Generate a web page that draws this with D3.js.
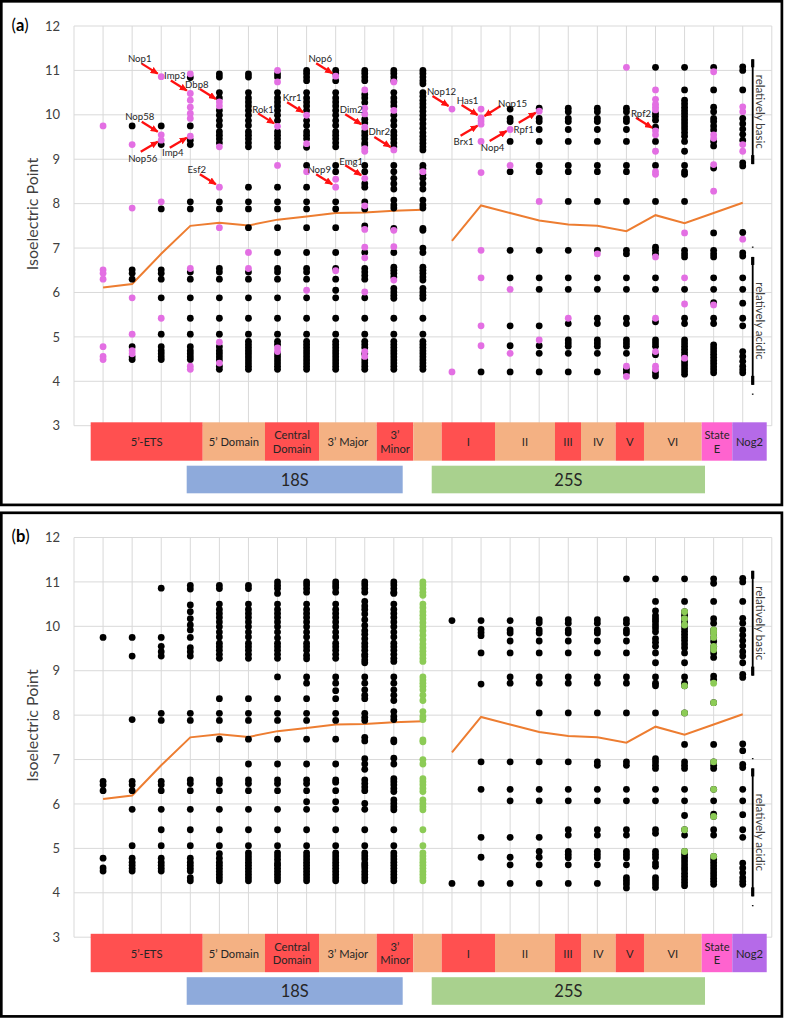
<!DOCTYPE html>
<html><head><meta charset="utf-8">
<script src="https://cdn.jsdelivr.net/npm/d3@7"></script>
<style>
body{margin:0;background:#fff}
svg{display:block}
text{font-family:Lato,"Noto Sans",sans-serif}
</style>
</head><body>
<svg id="c" width="785" height="1019"></svg>
<script>
// ---------------- DATA ----------------
const yTicks = [3,4,5,6,7,8,9,10,11,12];

// black points per column (columns 1..23), panel (a)
const blackA = [
 [],
 [9.75,6.51,6.43,6.3,4.78,4.55,4.49],
 [9.75,9.33,7.88,6.51,6.43,6.3,5.88,5.06,4.78,4.69,4.62,4.55,4.49],
 [10.84,9.75,9.43,9.33,8.04,7.88,6.46,6.3,5.88,5.42,5.06,4.78,4.69,4.62,4.55,4.49],
 [10.92,10.85,10.5,10.38,10.1,9.99,9.87,9.76,9.62,9.54,9.46,9.37,8.04,7.88,6.54,6.46,6.3,5.88,5.42,5.06,4.78,4.69,4.62,4.55,4.48,4.34,4.27],
 [10.92,10.85,10.5,10.38,10.29,10.2,10.1,9.99,9.87,9.76,9.62,9.54,9.46,9.37,9.28,8.37,8.04,7.88,7.46,6.46,6.3,5.88,5.42,5.06,4.9,4.83,4.76,4.69,4.62,4.55,4.48,4.41,4.34,4.27],
 [10.92,10.85,10.5,10.38,10.29,10.2,10.1,9.99,9.87,9.62,9.54,9.46,9.37,9.28,8.37,8.04,7.88,7.46,6.9,6.54,6.46,6.3,5.88,5.42,5.06,4.9,4.83,4.62,4.55,4.48,4.41,4.34,4.27],
 [11.0,10.93,10.85,10.77,10.5,10.38,10.29,10.2,10.1,9.87,9.76,9.62,9.54,9.46,9.27,8.86,8.37,8.04,7.88,7.46,6.9,6.54,6.46,6.3,5.88,5.42,5.06,4.9,4.83,4.76,4.69,4.62,4.55,4.48,4.41,4.34,4.27],
 [11.0,10.93,10.77,10.5,10.38,10.29,10.2,10.1,9.99,9.87,9.76,9.62,9.54,9.46,9.37,9.28,8.86,8.72,8.04,7.88,7.46,6.9,6.54,6.3,6.05,5.88,5.42,5.06,4.9,4.83,4.76,4.69,4.62,4.55,4.48,4.41,4.34,4.27],
 [11.0,10.93,10.85,10.77,10.46,10.38,10.28,9.9,9.82,9.62,9.54,9.46,9.37,9.32,8.86,8.72,8.45,8.37,8.04,7.88,7.5,6.9,6.54,6.46,6.38,6.3,5.88,5.42,5.06,4.9,4.83,4.76,4.62,4.48,4.41,4.34,4.27],
 [11.0,10.93,10.85,10.77,10.5,10.38,10.29,10.2,9.99,9.87,9.76,9.62,9.54,9.46,9.37,9.28,8.86,8.72,8.57,8.45,8.33,8.08,7.97,7.9,7.44,6.9,6.57,6.5,6.43,6.35,6.09,6.01,5.94,5.87,5.42,5.06,4.9,4.83,4.76,4.69,4.62,4.55,4.48,4.41,4.34,4.27],
 [11.0,10.93,10.85,10.77,10.7,10.5,10.42,10.33,10.25,10.17,10.08,9.99,9.9,9.8,9.7,9.6,9.52,9.44,9.36,9.28,9.21,8.86,8.79,8.65,8.57,8.45,8.33,8.08,7.97,7.9,7.44,7.4,7.0,6.9,6.57,6.5,6.43,6.35,6.28,6.09,6.01,5.94,5.87,5.42,5.06,4.9,4.83,4.76,4.69,4.62,4.55,4.48,4.41,4.34,4.27],
 [],
 [4.21],
 [10.13,9.92,9.85,9.4,8.72,6.95,6.33,5.25,4.8,4.21],
 [10.15,9.92,9.85,9.67,9.4,8.86,8.72,6.95,6.33,6.07,5.25,4.8,4.63,4.21],
 [10.15,10.07,9.92,9.85,9.67,9.4,8.86,8.72,8.05,6.95,6.33,6.07,5.3,4.93,4.86,4.79,4.63,4.21],
 [10.15,10.07,9.92,9.85,9.67,9.4,8.86,8.72,8.05,6.95,6.33,6.07,5.42,5.3,4.93,4.86,4.79,4.63,4.21],
 [10.15,10.07,9.92,9.85,9.67,9.4,8.86,8.72,8.05,6.95,6.87,6.33,6.07,5.42,5.3,4.93,4.86,4.79,4.63,4.27,4.2],
 [11.07,10.03,9.96,9.88,9.72,9.4,8.86,8.05,7.02,6.95,6.87,6.33,6.07,5.34,4.93,4.86,4.79,4.6,4.2,4.12],
 [11.07,10.56,10.33,10.25,10.17,10.1,10.03,9.96,9.89,9.82,9.75,9.68,9.6,9.52,9.4,9.18,8.86,8.72,8.66,8.05,6.95,6.87,6.8,6.07,5.42,5.3,4.93,4.86,4.79,4.72,4.65,4.58,4.44,4.37,4.3,4.23,4.16],
 [11.07,10.56,10.17,10.07,9.92,9.85,9.75,9.66,9.4,9.3,8.8,7.34,6.95,6.87,6.8,6.33,6.07,5.77,5.42,5.3,4.82,4.75,4.68,4.61,4.54,4.47,4.4,4.33,4.26,4.19],
 [11.08,11.0,10.56,9.92,9.8,9.68,9.56,9.43,8.92,8.85,7.35,6.89,6.82,6.33,6.07,5.76,5.42,5.25,4.67,4.56,4.45,4.34,4.26,4.19]
];

// highlighted (pink) points per column, panel (a)
const pinkA = [
 [9.75,6.51,6.43,6.3,4.78,4.56,4.49],
 [9.33,7.9,5.88,5.06,4.69,4.62],
 [10.86,9.55,9.43,8.04,5.42],
 [10.92,10.48,10.33,10.17,10.03,9.92,9.52,6.54,4.34,4.27],
 [10.29,10.2,9.28,8.37,7.46,4.88,4.41],
 [6.9,6.54],
 [11.0,10.74,9.74,8.86,4.75,4.67],
 [9.99,9.35,8.72,6.05],
 [10.87,8.55,8.37,6.49],
 [10.56,10.15,10.02,9.72,9.24,9.18,8.57,7.95,7.42,7.02,6.78,6.01,4.67,4.56],
 [10.74,10.1,9.21,7.4,7.03,6.28],
 [8.72],
 [10.13,4.21],
 [10.13,9.93,9.86,9.79,9.4,8.7,6.95,6.33,5.25,4.8],
 [9.67,8.86,6.07,4.63],
 [10.08,8.05,4.93],
 [5.42],
 [6.87],
 [11.07,4.34,4.11],
 [10.56,10.35,10.24,10.17,10.11,9.64,9.55,9.18,8.72,8.66,6.8,5.42,4.67,4.34,4.27],
 [7.34,6.33,5.74,4.52],
 [10.97,9.55,9.47,8.88,8.28,5.72],
 [10.18,10.07,9.33,9.18,7.2]
];

// panel (b): fully green column and green points in other columns
const greenColumnB = 12;
const greenColsB = [21, 22];
const greenValsB = [
 [10.33,10.17,10.03,8.66,8.05,5.42,4.93],
 [9.92,9.85,9.75,9.55,9.47,8.72,8.28,6.95,6.33,5.72,4.82]
];

// mean pI line (two segments)
const lineCols18 = [1,2,3,4,5,6,7,8,9,10,11,12];
const lineVals18 = [6.11,6.19,6.87,7.50,7.57,7.51,7.64,7.71,7.79,7.80,7.84,7.86];
const lineCols25 = [13,14,15,16,17,18,19,20,21,22,23];
const lineVals25 = [7.16,7.96,7.79,7.62,7.53,7.50,7.38,7.74,7.56,7.79,8.02];

// annotations (panel a)
const annNames = ["Nop1","Imp3","Dbp8","Nop58","Nop56","Imp4","Esf2","Rok1","Krr1","Nop6","Dim2","Dhr2","Nop9","Emg1","Nop12","Has1","Nop15","Brx1","Nop4","Rpf1","Rpf2"];
const annCols  = [3,4,5,3,3,4,5,7,8,9,10,11,9,10,13,14,14,14,15,16,20];
const annVals  = [10.86,10.48,10.29,9.55,9.43,9.52,8.37,9.74,9.99,10.87,9.72,9.21,8.37,8.57,10.13,9.93,9.93,9.79,9.67,10.08,9.64];
const annDirs  = ["nw","nw","nw","nw","sw","sw","nw","nw","nw","nw","nw","nw","nw","nw","nw","nw","ne","sw","sw","sw","nw"];
const annLabelDX = [-2,4,-3,-2,2,3,-3,5,5,4,6,5,3,6,9,6,12,3,3,5,5];
const annLabelDY = [-5,-5,-4.5,-5,6.5,5,-5,-3.5,-5,-5,-5,-5,-5,-3.5,-5,-4.5,-2,6,7,6.5,-4.5];

// domain bars (x in column units)
const barLabels = [["5’-ETS"],["5’ Domain"],["Central","Domain"],["3’ Major"],["3’","Minor"],[""],["I"],["II"],["III"],["IV"],["V"],["VI"],["State","E"],["Nog2"]];
const barStarts = [0.574,4.427,6.569,8.427,10.411,11.670,12.647,14.480,16.543,17.438,18.631,19.604,21.589,22.641];
const barEnds   = [4.427,6.569,8.427,10.411,11.670,12.647,14.480,16.543,17.438,18.631,19.604,21.589,22.641,23.825];
const barColors = ["#ff5050","#f4b183","#ff5050","#f4b183","#ff5050","#f4b183","#ff5050","#f4b183","#ff5050","#f4b183","#ff5050","#f4b183","#ff63cf","#b56ae8"];
const groupLabels = ["18S","25S"];
const groupStarts = [3.876,12.303];
const groupEnds = [11.305,21.703];
const groupColors = ["#8eaadb","#a9d18e"];

// ---------------- DRAW ----------------
const svg = d3.select("#c");
const x = d3.scaleLinear().domain([0,24]).range([74,771.8]);
const BLACK = "#000", PINK = "#e36fe3", GREEN = "#8ccb56", RED = "#ff1010";

svg.append("defs").append("marker")
  .attr("id","ah").attr("markerUnits","userSpaceOnUse")
  .attr("viewBox","0 0 8 7").attr("refX",7).attr("refY",3.5)
  .attr("markerWidth",8).attr("markerHeight",7).attr("orient","auto")
  .append("path").attr("d","M0,0 L8,3.5 L0,7 Z").attr("fill",RED);

function panel(oy, letter, mode){
  const y = d3.scaleLinear().domain([3,12]).range([425.7+oy, 26+oy]);
  const g = svg.append("g");

  // border
  g.append("rect").attr("x",1.3).attr("y",1.3+oy).attr("width",780.6).attr("height",503.6)
    .attr("fill","none").attr("stroke","#000").attr("stroke-width",2.7);

  // gridlines
  g.selectAll("line.hg").data(yTicks).join("line").attr("class","hg")
    .attr("x1",x(0)).attr("x2",x(24)).attr("y1",d=>y(d)).attr("y2",d=>y(d))
    .attr("stroke","#d9d9d9").attr("stroke-width",1);
  g.selectAll("line.vg").data(x.ticks(24)).join("line").attr("class","vg")
    .attr("x1",d=>x(d)).attr("x2",d=>x(d)).attr("y1",y(12)).attr("y2",y(3))
    .attr("stroke","#d9d9d9").attr("stroke-width",1);

  // y axis labels
  const ax = d3.axisLeft(y).tickValues(yTicks).tickSize(0).tickPadding(14).tickFormat(d3.format("d"));
  const axG = g.append("g").attr("transform",`translate(${x(0)},0)`).call(ax);
  axG.select(".domain").remove();
  axG.selectAll("text").attr("font-size",13).attr("fill","#404040").attr("font-family","Lato, 'Noto Sans', sans-serif");

  // axis title
  g.append("text").attr("transform",`translate(31,${214+oy}) rotate(-90)`)
    .attr("text-anchor","middle").attr("dominant-baseline","central")
    .attr("font-size",16).attr("fill","#404040").text("Isoelectric Point");

  // panel letter
  const pl = g.append("text").attr("x",11.5).attr("y",30.7+oy).attr("font-size",16.5).attr("fill","#000");
  pl.append("tspan").text("(");
  pl.append("tspan").attr("font-weight","bold").text(letter);
  pl.append("tspan").text(")");

  // mean line
  const ln = d3.line().x(d=>x(d[0])).y(d=>y(d[1]));
  [[lineCols18,lineVals18],[lineCols25,lineVals25]].forEach(([cs,vs])=>{
    g.append("path").attr("d",ln(cs.map((c,i)=>[c,vs[i]])))
      .attr("fill","none").attr("stroke","#ed7d31").attr("stroke-width",2);
  });

  // points
  let pts = [];
  blackA.forEach((arr,i)=>arr.forEach(v=>pts.push({c:i+1,v,col:BLACK})));
  pinkA.forEach((arr,i)=>arr.forEach(v=>pts.push({c:i+1,v,col: mode==="a" ? PINK : BLACK})));
  if(mode==="b"){
    pts.forEach(p=>{ if(p.c===greenColumnB) p.col = GREEN; });
    greenColsB.forEach((c,k)=>greenValsB[k].forEach(v=>pts.push({c,v,col:GREEN})));
  }
  pts.sort((a,b)=>(a.col===BLACK?0:1)-(b.col===BLACK?0:1));
  g.selectAll("circle.pt").data(pts).join("circle").attr("class","pt")
    .attr("cx",d=>x(d.c)).attr("cy",d=>y(d.v)).attr("r",3.4).attr("fill",d=>d.col);

  // relatively basic / acidic brackets
  const bx = 752.7;
  function bracket(top, bot, label, mid){
    const yt = y(top), yb = y(bot);
    g.append("line").attr("x1",bx).attr("x2",bx).attr("y1",yt).attr("y2",yb).attr("stroke","#000").attr("stroke-width",1.8);
    g.append("line").attr("x1",bx).attr("x2",bx).attr("y1",yt).attr("y2",yt+8).attr("stroke","#000").attr("stroke-width",3.2);
    g.append("line").attr("x1",bx).attr("x2",bx).attr("y1",yb-9).attr("y2",yb).attr("stroke","#000").attr("stroke-width",3.2);
    g.append("text").attr("transform",`translate(${bx+3.3},${y(mid)}) rotate(90)`)
      .attr("text-anchor","middle").attr("font-size",11.5).attr("fill","#404040").text(label);
  }
  bracket(11.25, 8.89, "relatively basic", 10.07);
  bracket(6.8, 3.92, "relatively acidic", 5.36);
  [7.02, 3.71].forEach(v=>{
    g.append("line").attr("x1",bx-0.8).attr("x2",bx+0.8).attr("y1",y(v)).attr("y2",y(v)).attr("stroke","#000").attr("stroke-width",1.2);
  });

  // bars
  const barTop = y(3) - 3.4, barH = 38.4;
  const bg = g.append("g");
  barLabels.forEach((lab,i)=>{
    const x0 = x(barStarts[i]), x1 = x(barEnds[i]);
    bg.append("rect").attr("x",x0).attr("y",barTop).attr("width",x1-x0).attr("height",barH).attr("fill",barColors[i]);
    const cx = (x0+x1)/2, cy = barTop + barH/2;
    lab.forEach((t,k)=>{
      const dy = lab.length===1 ? 0 : (k===0 ? -6.8 : 6.8);
      bg.append("text").attr("x",cx).attr("y",cy+dy).attr("text-anchor","middle")
        .attr("dominant-baseline","central").attr("font-size",11.2).attr("fill","#262626").text(t);
    });
  });
  const gTop = y(3) + 40, gH = 27.6;
  groupLabels.forEach((lab,i)=>{
    const x0 = x(groupStarts[i]), x1 = x(groupEnds[i]);
    bg.append("rect").attr("x",x0).attr("y",gTop).attr("width",x1-x0).attr("height",gH).attr("fill",groupColors[i]);
    bg.append("text").attr("x",(x0+x1)/2).attr("y",gTop+gH/2).attr("text-anchor","middle")
      .attr("dominant-baseline","central").attr("font-size",16.5).attr("fill","#262626").text(lab);
  });

  // annotations
  if(mode==="a"){
    annNames.forEach((nm,i)=>{
      const px = x(annCols[i]), py = y(annVals[i]);
      let tip, st;
      if(annDirs[i]==="nw"){ tip=[px-3.5,py-3]; st=[tip[0]-16,tip[1]-10]; }
      else if(annDirs[i]==="sw"){ tip=[px-3.5,py+1.5]; st=[tip[0]-17,tip[1]+10]; }
      else { tip=[px+3.5,py-2]; st=[tip[0]+16,tip[1]-10]; }
      g.append("line").attr("x1",st[0]).attr("y1",st[1]).attr("x2",tip[0]).attr("y2",tip[1])
        .attr("stroke",RED).attr("stroke-width",2.3).attr("marker-end","url(#ah)");
      g.append("text").attr("x",st[0]+annLabelDX[i]).attr("y",st[1]+annLabelDY[i])
        .attr("text-anchor","middle").attr("dominant-baseline","central")
        .attr("font-size",9.6).attr("fill","#262626").text(nm);
    });
  }
}

panel(0, "a", "a");
panel(511.5, "b", "b");
</script>
</body></html>
